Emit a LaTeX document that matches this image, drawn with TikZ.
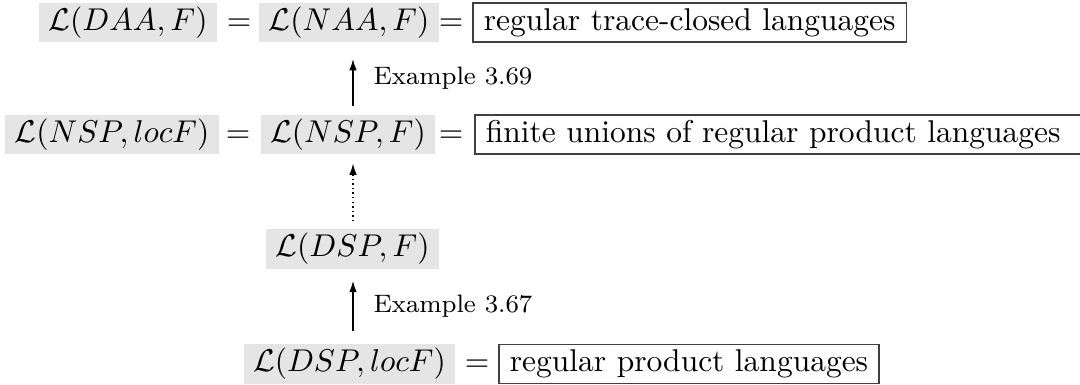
\documentclass[tikz,border=0pt]{standalone}
\usetikzlibrary{arrows.meta}
\begin{document}
\begin{tikzpicture}[x=0.3175pt,y=-0.3175pt,
  gb/.style={fill=black!10, inner xsep=3pt, inner ysep=1.2pt, text height=7.5pt, text depth=2.5pt},
  eqs/.style={inner sep=0pt, text height=7.5pt, text depth=2.5pt},
  lb/.style={draw=black!75, line width=0.5pt, inner xsep=3.5pt, inner ysep=1.2pt, text height=7.5pt, text depth=2.5pt},
  arr/.style={-{Latex[length=3.6pt,width=2.4pt]}, line width=0.45pt},
  lab/.style={font=\footnotesize, anchor=west, xshift=3pt}]
\useasboundingbox (0,0) rectangle (1080,385);
\clip (0,0) rectangle (1080,385);
\coordinate (ax) at (353,0);
% row 1
\node[gb] (daa) at (128,22.5) {$\mathcal{L}(DAA,F)$};
\node[eqs] (e1) at (239,22.5) {$=$};
\node[gb] (naa) at (349,22.5) {$\mathcal{L}(NAA,F)$};
\node[eqs] (e2) at (451,22.5) {$=$};
\node[lb,anchor=west] (rtc) at (472,22.5) {regular trace-closed languages};
% row 2
\node[gb] (nspl) at (112,134.5) {$\mathcal{L}(NSP,locF)$};
\node[eqs] (e3) at (238,134.5) {$=$};
\node[gb] (nsp) at (348,134.5) {$\mathcal{L}(NSP,F)$};
\node[eqs] (e4) at (451,134.5) {$=$};
\node[lb,anchor=west] (fu) at (474,134.5) {finite unions of regular product languages\rule{10pt}{0pt}};
% row 3
\node[gb] (dspf) at (352.5,249) {$\mathcal{L}(DSP,F)$};
% row 4
\node[gb] (dspl) at (349.5,364) {$\mathcal{L}(DSP,locF)$};
\node[eqs] (e5) at (477,364) {$=$};
\node[lb,anchor=west] (rp) at (498,364) {regular product languages};
% arrows
\draw[arr, shorten <=2.5pt, shorten >=5.2pt] (nsp.north -| ax) -- node[lab] {Example 3.69} (naa.south -| ax);
\draw[arr, densely dotted, shorten <=2.4pt, shorten >=2.8pt] (dspf.north -| ax) -- (nsp.south -| ax);
\draw[arr, shorten <=4pt, shorten >=3.7pt] (dspl.north -| ax) -- node[lab] {Example 3.67} (dspf.south -| ax);
\end{tikzpicture}
\end{document}
